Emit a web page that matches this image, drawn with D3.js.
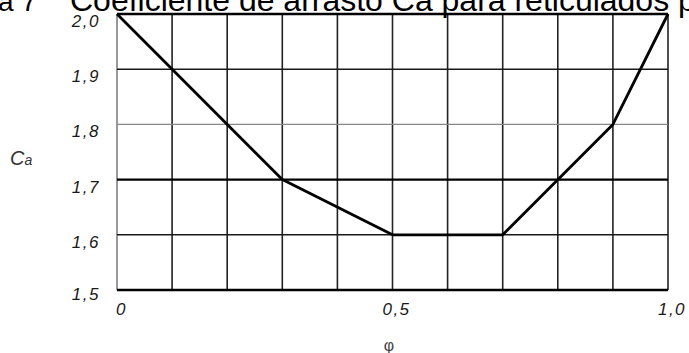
<!DOCTYPE html>
<html>
<head>
<meta charset="utf-8">
<script src="https://cdn.jsdelivr.net/npm/d3@7"></script>
<style>
  html, body { margin: 0; padding: 0; background: #fff; }
  svg { display: block; }
</style>
</head>
<body>
<div id="chart"></div>
<script>
// Ca drag coefficient vs phi (lattice structures)
const phiValues = [0, 0.3, 0.5, 0.7, 0.9, 1.0];
const caValues  = [2.0, 1.7, 1.6, 1.6, 1.8, 2.0];

const xTicks = [0, 0.1, 0.2, 0.3, 0.4, 0.5, 0.6, 0.7, 0.8, 0.9, 1.0];
const yTicks = [1.5, 1.6, 1.7, 1.8, 1.9, 2.0];
const xLabels = [
  { v: 0,   text: '0' },
  { v: 0.5, text: '0,5' },
  { v: 1.0, text: '1,0' }
];
const yLabels = ['1,5', '1,6', '1,7', '1,8', '1,9', '2,0'];

const titleLead = 'a 7';
const titleText = 'Coeficiente de arrasto Ca para reticulados p';

const width = 689, height = 353;
const FONT = 'Liberation Sans, Arial, sans-serif';

const svg = d3.select('#chart')
  .append('svg')
  .attr('width', width)
  .attr('height', height);

const x = d3.scaleLinear().domain([0, 1]).range([117, 668]);
const y = d3.scaleLinear().domain([1.5, 2.0]).range([290, 14]);

// Title (cut off at top in the source)
svg.append('text')
  .attr('x', -2).attr('y', 11)
  .attr('font-family', FONT)
  .attr('font-size', 28)
  .attr('fill', '#000')
  .text(titleLead);

const title = svg.append('text')
  .attr('x', 70).attr('y', 11)
  .attr('font-family', FONT)
  .attr('font-size', 28)
  .attr('fill', '#000')
  .text(titleText);
const tw = title.node().getComputedTextLength();
title.attr('font-size', 28 * 626 / tw);

// Grid
const grid = svg.append('g');
xTicks.forEach(function(t, i) {
  const edge = i === 0;
  grid.append('line')
    .attr('x1', x(t)).attr('x2', x(t))
    .attr('y1', y(1.5)).attr('y2', y(2.0))
    .attr('stroke', edge ? '#777' : '#222')
    .attr('stroke-width', edge ? 1.5 : 1.6);
});
yTicks.forEach(function(t) {
  var col = '#1a1a1a', sw = 1.6;
  if (Math.abs(t - 1.8) < 1e-9) { col = '#888'; sw = 1.3; }
  if (Math.abs(t - 1.7) < 1e-9) { col = '#000'; sw = 2.2; }
  if (Math.abs(t - 1.5) < 1e-9 || Math.abs(t - 2.0) < 1e-9) { col = '#000'; sw = 2.4; }
  grid.append('line')
    .attr('x1', x(0)).attr('x2', x(1))
    .attr('y1', y(t)).attr('y2', y(t))
    .attr('stroke', col)
    .attr('stroke-width', sw);
});

// Curve
const pts = phiValues.map(function(p, i) { return [p, caValues[i]]; });
svg.append('path')
  .datum(pts)
  .attr('d', d3.line().x(function(d) { return x(d[0]); }).y(function(d) { return y(d[1]); }))
  .attr('fill', 'none')
  .attr('stroke', '#000')
  .attr('stroke-width', 2.8)
  .attr('stroke-linejoin', 'round');

// Y labels
yTicks.forEach(function(t, i) {
  svg.append('text')
    .attr('x', 100).attr('y', y(t) + (i === 0 ? 10 : 13))
    .attr('text-anchor', 'end')
    .attr('font-family', FONT)
    .attr('font-style', 'italic')
    .attr('font-size', 17)
    .attr('letter-spacing', 1.5)
    .attr('fill', '#1a1a1a')
    .text(yLabels[i]);
});

// X labels
xLabels.forEach(function(d) {
  svg.append('text')
    .attr('x', x(d.v) + (d.v === 0 ? -1 : 4))
    .attr('y', 315)
    .attr('text-anchor', d.v === 0 ? 'start' : 'middle')
    .attr('font-family', FONT)
    .attr('font-style', 'italic')
    .attr('font-size', 17)
    .attr('letter-spacing', 1.5)
    .attr('fill', '#1a1a1a')
    .text(d.text);
});

// Axis titles
const ca = svg.append('text')
  .attr('x', 10).attr('y', 165)
  .attr('font-family', FONT)
  .attr('font-style', 'italic')
  .attr('fill', '#333');
ca.append('tspan').attr('font-size', 20).text('C');
ca.append('tspan').attr('font-size', 14).text('a');

svg.append('text')
  .attr('x', 389).attr('y', 351)
  .attr('text-anchor', 'middle')
  .attr('font-family', FONT)
  .attr('font-size', 16)
  .attr('fill', '#444')
  .text('φ');
</script>
</body>
</html>
